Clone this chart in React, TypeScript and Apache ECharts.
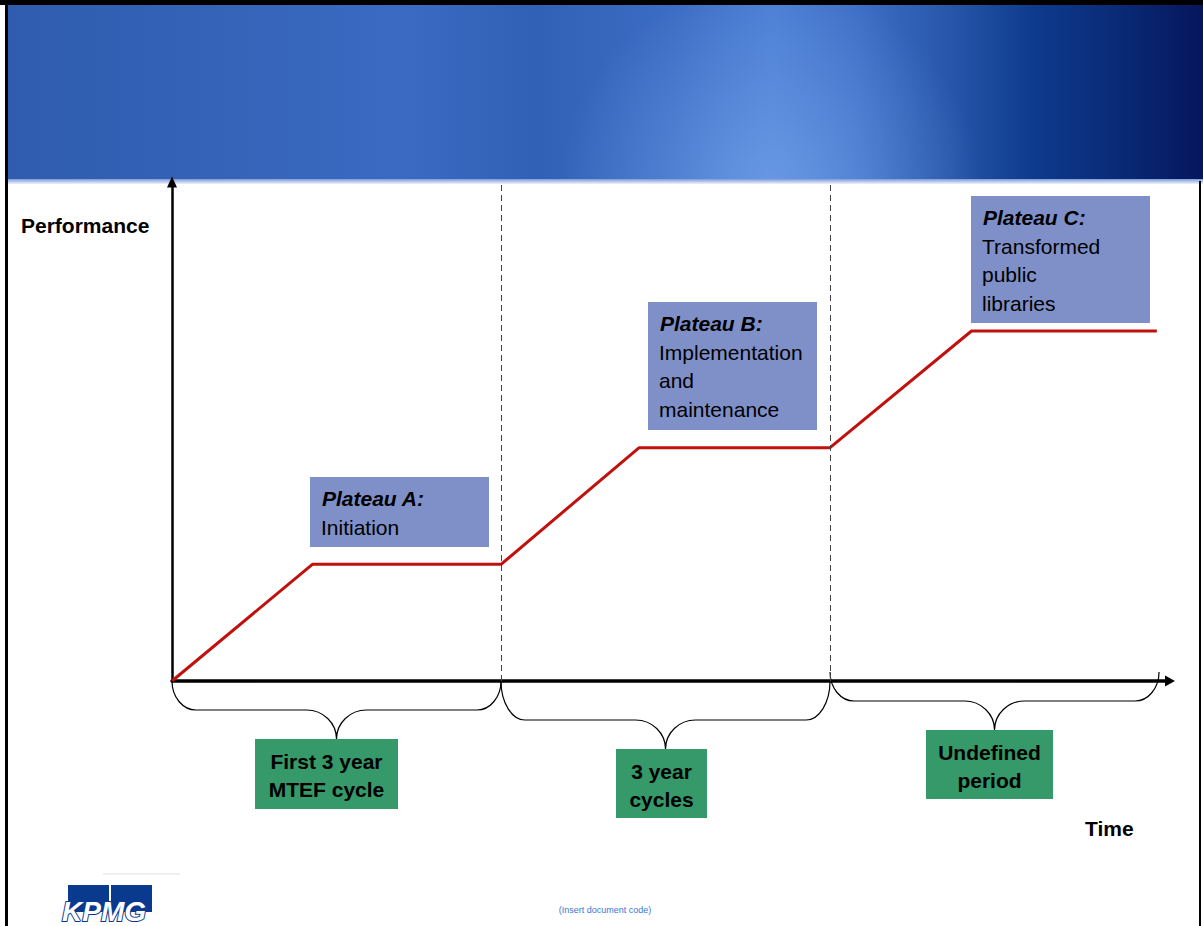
import React, { useEffect, useRef } from "react";
import * as echarts from "echarts";

// ---------- data ----------
const pathX = [0, 1.28, 3, 4.26, 6, 7.29, 8.98];
const pathY = [0, 1, 1, 2, 2, 3, 3];
const phaseBoundaries = [3, 6];
const periods = [
  [0, 3],
  [3, 6],
  [6, 9],
];
const periodLabels = [
  ["First 3 year", "MTEF cycle"],
  ["3 year", "cycles"],
  ["Undefined", "period"],
];
const plateauTitles = ["Plateau A:", "Plateau B:", "Plateau C:"];
const plateauTexts = [
  ["Initiation"],
  ["Implementation", "and", "maintenance"],
  ["Transformed", "public", "libraries"],
];
const yAxisName = "Performance";
const xAxisName = "Time";
const footerCode = "(Insert document code)";
const logoText = "KPMG";

// ---------- layout / style ----------
const W = 1203;
const H = 926;
const braceTopShift = [0, 0, -9];
const braceDepth = [29, 39, 29];
const braceTipDepth = 29;
const greenBoxes = [
  { x: 255, y: 739, w: 143, h: 70 },
  { x: 616, y: 749, w: 91, h: 69 },
  { x: 926, y: 730, w: 127, h: 69 },
];
const plateauBoxes = [
  { x: 310, y: 477, w: 179, h: 70 },
  { x: 648, y: 302, w: 169, h: 128 },
  { x: 971, y: 196, w: 179, h: 127 },
];
const FONT = "'Liberation Sans', Arial, sans-serif";
const mid = (baseline: number, fs: number) => baseline - 0.3465 * fs;

function bracePath(x0: number, x1: number, top: number, midY: number, tip: number, rEnd: number, rMid: number) {
  const k = 0.552;
  const xc = (x0 + x1) / 2;
  const h1 = midY - top;
  const h2 = tip - midY;
  return [
    `M ${x0} ${top}`,
    `C ${x0} ${top + k * h1} ${x0 + (1 - k) * rEnd} ${midY} ${x0 + rEnd} ${midY}`,
    `L ${xc - rMid} ${midY}`,
    `C ${xc - rMid + k * rMid} ${midY} ${xc} ${tip - k * h2} ${xc} ${tip}`,
    `C ${xc} ${tip - k * h2} ${xc + rMid - k * rMid} ${midY} ${xc + rMid} ${midY}`,
    `L ${x1 - rEnd} ${midY}`,
    `C ${x1 - (1 - k) * rEnd} ${midY} ${x1} ${top + k * h1} ${x1} ${top}`,
  ].join(" ");
}

export default function App() {
  const ref = useRef<HTMLDivElement>(null);

  useEffect(() => {
    if (!ref.current) return;
    const chart = echarts.init(ref.current, null, { renderer: "svg", width: W, height: H });

    const graphics: any[] = [];

    // header band
    graphics.push({
      type: "rect",
      z: -10,
      shape: { x: 8, y: 5, width: W - 8, height: 174 },
      style: {
        fill: new echarts.graphic.LinearGradient(0, 0, 1, 0, [
          { offset: 0, color: "#2f5cae" },
          { offset: 0.18, color: "#3563b8" },
          { offset: 0.33, color: "#3a6bc2" },
          { offset: 0.44, color: "#3161b6" },
          { offset: 0.56, color: "#3b6dc4" },
          { offset: 0.64, color: "#4a7ed3" },
          { offset: 0.71, color: "#3d6fc6" },
          { offset: 0.79, color: "#2755a9" },
          { offset: 0.86, color: "#0d3a8c" },
          { offset: 0.93, color: "#0a2a76" },
          { offset: 1, color: "#06165e" },
        ]),
      },
    });
    graphics.push({
      type: "rect",
      z: -9,
      shape: { x: 8, y: 5, width: W - 8, height: 174 },
      style: {
        fill: new echarts.graphic.RadialGradient(
          770,
          190,
          210,
          [
            { offset: 0, color: "rgba(125,170,240,0.6)" },
            { offset: 1, color: "rgba(125,170,240,0)" },
          ],
          true
        ),
      },
    });
    graphics.push({
      type: "rect",
      z: -9,
      shape: { x: 8, y: 179, width: W - 8, height: 5 },
      style: {
        fill: new echarts.graphic.LinearGradient(0, 0, 0, 1, [
          { offset: 0, color: "#7b9bd8" },
          { offset: 1, color: "#eef3fb" },
        ]),
      },
    });
    // frame
    graphics.push({ type: "rect", z: -8, shape: { x: 0, y: 0, width: W, height: 5 }, style: { fill: "#000" } });
    graphics.push({ type: "rect", z: -8, shape: { x: 5, y: 0, width: 3, height: H }, style: { fill: "#000" } });
    graphics.push({ type: "rect", z: -8, shape: { x: 1199, y: 181, width: 2, height: H - 181 }, style: { fill: "#000" } });

    // axis names
    graphics.push({
      type: "text",
      z: 10,
      style: { text: yAxisName, x: 21, y: mid(233, 21), font: `bold 21px ${FONT}`, fill: "#000", verticalAlign: "middle" },
    });
    graphics.push({
      type: "text",
      z: 10,
      style: { text: xAxisName, x: 1085, y: mid(836, 21), font: `bold 21px ${FONT}`, fill: "#000", verticalAlign: "middle" },
    });

    // plateau boxes
    plateauBoxes.forEach((b, i) => {
      graphics.push({ type: "rect", z: 5, shape: { x: b.x, y: b.y, width: b.w, height: b.h }, style: { fill: "#7f8fc8" } });
      graphics.push({
        type: "text",
        z: 6,
        style: {
          text: plateauTitles[i],
          x: b.x + 12,
          y: mid(b.y + 29, 21),
          font: `italic bold 21px ${FONT}`,
          fill: "#000",
          verticalAlign: "middle",
        },
      });
      plateauTexts[i].forEach((t, j) => {
        graphics.push({
          type: "text",
          z: 6,
          style: {
            text: t,
            x: b.x + 11,
            y: mid(b.y + 29 + 28.5 * (j + 1), 21),
            font: `21px ${FONT}`,
            fill: "#000",
            verticalAlign: "middle",
          },
        });
      });
    });

    // green period boxes
    greenBoxes.forEach((b, i) => {
      graphics.push({ type: "rect", z: 5, shape: { x: b.x, y: b.y, width: b.w, height: b.h }, style: { fill: "#35996a" } });
      periodLabels[i].forEach((t, j) => {
        graphics.push({
          type: "text",
          z: 6,
          style: {
            text: t,
            x: b.x + b.w / 2,
            y: mid(b.y + 30 + 28 * j, 21),
            font: `bold 21px ${FONT}`,
            fill: "#000",
            align: "center",
            verticalAlign: "middle",
          },
        });
      });
    });

    // footer
    graphics.push({ type: "rect", z: 1, shape: { x: 103, y: 873, width: 77, height: 2 }, style: { fill: "#eef0f5" } });
    graphics.push({ type: "rect", z: 1, shape: { x: 68, y: 885, width: 41, height: 27 }, style: { fill: "#0a3a8e" } });
    graphics.push({ type: "rect", z: 1, shape: { x: 111, y: 885, width: 41, height: 27 }, style: { fill: "#0a3a8e" } });
    graphics.push({
      type: "text",
      z: 2,
      style: {
        text: logoText,
        x: 62,
        y: mid(921, 28),
        font: `italic bold 28px ${FONT}`,
        fill: "#ffffff",
        stroke: "#0a3a8e",
        lineWidth: 2,
        verticalAlign: "middle",
      },
    });
    graphics.push({
      type: "text",
      z: 2,
      style: {
        text: footerCode,
        x: 605,
        y: 910,
        font: `9px ${FONT}`,
        fill: "#3a78d8",
        align: "center",
        verticalAlign: "middle",
      },
    });

    const option: any = {
      animation: false,
      backgroundColor: "#ffffff",
      grid: { left: 172, right: W - 1170, top: 182, bottom: H - 681, containLabel: false },
      xAxis: {
        type: "value",
        min: 0,
        max: 9.1,
        axisLine: {
          show: true,
          symbol: ["none", "triangle"],
          symbolSize: [11, 10],
          lineStyle: { color: "#000", width: 3.5 },
        },
        axisTick: { show: false },
        axisLabel: { show: false },
        splitLine: { show: false },
      },
      yAxis: {
        type: "value",
        min: 0,
        max: 4.277,
        axisLine: {
          show: true,
          symbol: ["none", "triangle"],
          symbolSize: [10, 11],
          lineStyle: { color: "#000", width: 2.5 },
        },
        axisTick: { show: false },
        axisLabel: { show: false },
        splitLine: { show: false },
      },
      series: [
        {
          type: "line",
          data: pathX.map((x, i) => [x, pathY[i]]),
          symbol: "none",
          lineStyle: { color: "#c0110d", width: 3 },
          z: 3,
          markLine: {
            silent: true,
            symbol: ["none", "none"],
            label: { show: false },
            lineStyle: { color: "#444", width: 1, type: [6, 4] },
            data: phaseBoundaries.map((v) => ({ xAxis: v })),
          },
        },
        {
          type: "custom",
          data: periods,
          z: 4,
          renderItem: (params: any, api: any) => {
            const i = params.dataIndex;
            const p0 = api.coord([api.value(0), 0]);
            const p1 = api.coord([api.value(1), 0]);
            const top = p0[1] + braceTopShift[i];
            const midY = top + braceDepth[i];
            const tip = midY + braceTipDepth;
            return {
              type: "path",
              shape: { pathData: bracePath(p0[0], p1[0], top, midY, tip, 24, 30) },
              style: { fill: "none", stroke: "#000", lineWidth: 1.2 },
            };
          },
        },
      ],
      graphic: { elements: graphics },
    };

    chart.setOption(option);
    return () => chart.dispose();
  }, []);

  return (
    <div
      ref={ref}
      style={{ position: "fixed", left: 0, top: 0, width: W, height: H, background: "#fff" }}
    />
  );
}
